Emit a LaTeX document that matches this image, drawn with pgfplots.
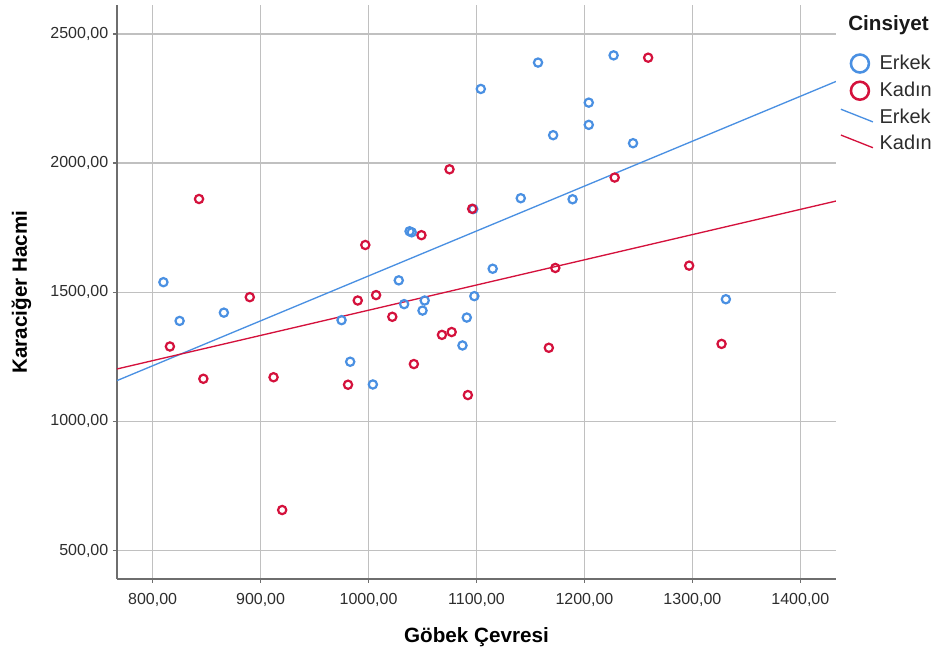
\documentclass[border=0pt]{standalone}
\usepackage{fontspec}
\setmainfont{Liberation Sans}
\usepackage{pgfplots}
\pgfplotsset{compat=1.18}
\definecolor{erkek}{RGB}{74,144,226}
\definecolor{kadin}{RGB}{212,17,60}
\definecolor{gridc}{RGB}{192,192,192}
\definecolor{axc}{RGB}{110,110,110}
\definecolor{txt}{RGB}{45,45,45}
\begin{document}
\begin{tikzpicture}
\path[use as bounding box] (-87.75pt,-57pt) rectangle (614.25pt,434.25pt);
\begin{axis}[name=ax, at={(0,0)}, anchor=south west, scale only axis,
  width=539.25pt, height=430.5pt,
  xmin=767, xmax=1433, ymin=390, ymax=2612,
  xtick={800,900,...,1400}, ytick={500,1000,...,2500},
  grid=major, major grid style={gridc, line width=1.1pt},
  axis x line*=bottom, axis y line*=left,
  axis line style={axc, line width=1.1pt},
  tick align=outside, major tick length=3pt, tick style={axc, line width=1pt},
  /pgf/number format/.cd, fixed, fixed zerofill, precision=2, use comma, 1000 sep={}, assume math mode=true,
  /pgfplots/.cd,
  ticklabel style={font=\fontsize{12pt}{14pt}\selectfont, text=txt},
  xticklabel style={yshift=-4pt},
  yticklabel style={xshift=0pt},
  xlabel={Göbek Çevresi}, ylabel={Karaciğer Hacmi},
  xlabel style={font=\bfseries\fontsize{15.5pt}{18pt}\selectfont, at={(axis description cs:0.5,0)}, anchor=center, yshift=-43.5pt},
  ylabel style={font=\bfseries\fontsize{15.5pt}{18pt}\selectfont, at={(axis description cs:-0.133,0.5)}, anchor=center},
  legend style={draw=none, fill=none, at={(1,1)}, anchor=north west, xshift=0pt, yshift=-34pt,
    font=\fontsize{15pt}{18pt}\selectfont, text=txt, row sep=5pt,
    /tikz/every odd column/.append style={column sep=3.5pt},
    nodes={inner sep=1pt}},
  legend cell align=left,
]
\addplot[only marks, mark=o, erkek, mark size=3.1pt, mark options={line width=1.65pt},
  legend image code/.code={\draw[erkek, line width=1.9pt] (14.25pt,0pt) circle (6.75pt);}]
  coordinates {
(1104,2287) (1097,1822) (1038,1736) (1040,1732) (810,1539) (1028,1546)
(1227,2417) (1157,2389) (1204,2234) (1204,2148) (1171,2108) (1245,2077)
(1141,1864) (1189,1860) (1115,1591) (1331,1473) (825,1389) (866,1421)
(975,1392) (1033,1454) (1052,1468) (1050,1429) (1087,1294) (1091,1402)
(1098,1485) (983,1231) (1004,1143)
};
\addlegendentry{Erkek}
\addplot[only marks, mark=o, kadin, mark size=3.1pt, mark options={line width=1.65pt},
  legend image code/.code={\draw[kadin, line width=1.9pt] (14.25pt,0pt) circle (6.75pt);}]
  coordinates {
(1075,1976) (843,1861) (1096,1823) (1049,1721) (997,1683) (1259,2408)
(1228,1944) (1173,1594) (1297,1603) (890,1481) (816,1290) (847,1165)
(912,1171) (920,657) (990,1468) (1007,1489) (1022,1405) (1068,1335)
(1077,1346) (1042,1222) (981,1142) (1092,1102) (1167,1285) (1327,1300)
};
\addlegendentry{Kadın}
\addplot[erkek, line width=1pt,
  legend image code/.code={\draw[erkek, line width=1pt] (0pt,6pt) -- (24pt,-3.5pt);}]
  coordinates {(767,1158) (1433,2316)};
\addlegendentry{Erkek}
\addplot[kadin, line width=1pt,
  legend image code/.code={\draw[kadin, line width=1pt] (0pt,6pt) -- (24pt,-3.5pt);}]
  coordinates {(767,1203) (1433,1853)};
\addlegendentry{Kadın}
\end{axis}
\node[anchor=west, font=\bfseries\fontsize{15.5pt}{18pt}\selectfont, text=black!90, inner sep=0pt]
  at ([xshift=9pt, yshift=-15pt]ax.north east) {Cinsiyet};
\end{tikzpicture}
\end{document}
